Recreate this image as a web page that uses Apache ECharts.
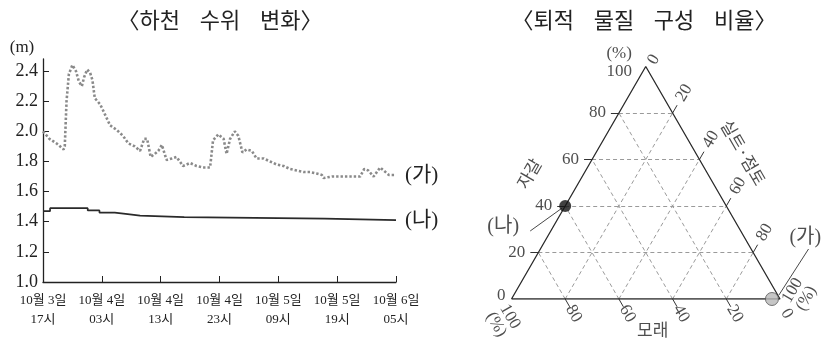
<!DOCTYPE html>
<html>
<head>
<meta charset="utf-8">
<script src="https://cdn.jsdelivr.net/npm/echarts@6/dist/echarts.min.js"></script>
<style>
html,body{margin:0;padding:0;background:#fff;}
#c{width:827px;height:349px;}
</style>
</head>
<body>
<div id="c"></div>
<script>
// ---------- Data: river water level ----------
const hourLabels = ['10월 3일\n17시','10월 4일\n03시','10월 4일\n13시','10월 4일\n23시','10월 5일\n09시','10월 5일\n19시','10월 6일\n05시'];
const yTickValues = [1.0, 1.2, 1.4, 1.6, 1.8, 2.0, 2.2, 2.4];
// hours elapsed since 10/3 17시
const gaHours = [0,1.1,2.3,3.5,3.7,4.0,4.4,5.0,5.6,6.1,6.6,7.0,7.5,8.0,8.4,8.8,9.7,10.2,11.4,12.5,13.6,14.5,15.6,16.5,17.2,17.7,18.3,19.0,19.6,20.2,21.0,21.9,22.7,23.8,25.0,26.1,27.2,28.4,28.9,29.8,30.7,31.2,31.8,32.6,33.2,33.9,34.6,35.5,36.3,37.5,38.6,39.7,40.9,42.0,43.1,44.3,45.4,46.5,47.4,47.7,48.0,49.1,51.5,53.9,54.6,55.3,56.2,57.3,57.9,58.8,60];
const gaLevel = [2.00,1.95,1.92,1.88,1.90,2.20,2.38,2.44,2.40,2.33,2.30,2.36,2.41,2.39,2.34,2.22,2.18,2.14,2.04,2.01,1.97,1.92,1.90,1.87,1.95,1.95,1.83,1.85,1.87,1.91,1.81,1.82,1.83,1.77,1.79,1.77,1.76,1.76,1.94,1.98,1.95,1.85,1.95,2.00,1.97,1.86,1.88,1.87,1.82,1.82,1.80,1.78,1.77,1.75,1.74,1.73,1.73,1.72,1.71,1.69,1.70,1.70,1.70,1.70,1.75,1.74,1.70,1.76,1.74,1.71,1.71];
const naHours = [0,1.2,7.6,9.6,12.2,14.4,16.5,24.0,47.9,60];
const naLevel = [1.47,1.49,1.475,1.46,1.45,1.44,1.43,1.42,1.41,1.41];
const seriesNames = ['(가)','(나)'];

// ---------- Data: sediment composition (ternary, %) ----------
const ternTicks = [0,20,40,60,80,100];
const sampleNames = ['(가)','(나)'];
const sampleGravel = [0, 40];
const sampleSand = [3, 60];
const sampleSilt = [97, 0];

// ---------- helpers ----------
const SQ = Math.sqrt(3) / 2;
function tern(g, c) { return [c + g / 2, g * SQ]; }
const PXU = 100 / 268.5;
function shiftPx(p, dx, dy) { return [p[0] + dx * PXU, p[1] - dy * PXU]; }
const numFont = '"Liberation Serif","DejaVu Serif","Noto Sans CJK KR",serif';
const krFont = '"Noto Sans CJK KR","Noto Sans",sans-serif';
const mixFont = '"Liberation Serif","Noto Sans CJK KR",serif';

const inner = ternTicks.filter(v => v > 0 && v < 100);

// dashed grid segments
const gridSegs = [];
inner.forEach(v => {
  gridSegs.push({coords: [tern(v, 0), tern(v, 100 - v)]});          // gravel const
  gridSegs.push({coords: [tern(0, v), tern(100 - v, v)]});          // silt const
  gridSegs.push({coords: [tern(0, 100 - v), tern(100 - v, 0)]});    // sand const
});
// ticks
const tickSegs = [];
inner.forEach(v => {
  const pg = tern(v, 0);          tickSegs.push({coords: [pg, shiftPx(pg, -8, 0)]});
  const pc = tern(100 - v, v);    tickSegs.push({coords: [pc, shiftPx(pc, 4.5, -7.8)]});
  const ps = tern(0, 100 - v);    tickSegs.push({coords: [ps, shiftPx(ps, 4.5, 7.8)]});
});
// tick labels
const tickLabels = [];
function addLbl(p, text, opt) { tickLabels.push({value: p, label: Object.assign({formatter: text}, opt || {})}); }
inner.forEach(v => {
  addLbl(shiftPx(tern(v, 0), -13, 0), String(v), {align: 'right'});
  addLbl(shiftPx(tern(100 - v, v), 11.5, -20), String(v), {rotate: 60});
  addLbl(shiftPx(tern(0, 100 - v), 8.5, 14.7), String(v), {rotate: -60});
});
addLbl(shiftPx(tern(0, 0), -6, -3), String(ternTicks[0]), {align: 'right'});
addLbl(shiftPx(tern(100, 0), -26.6, -4.2), '(%)\n' + ternTicks[5], {lineHeight: 18});
addLbl(shiftPx(tern(100, 0), 8, -7), String(ternTicks[0]), {rotate: 60});
addLbl(shiftPx(tern(0, 100), 19.5, -4.6), ternTicks[5] + '\n(%)', {rotate: 60, lineHeight: 16});
addLbl(shiftPx(tern(0, 0), -8.4, 21.6), ternTicks[5] + '\n(%)', {rotate: -60, lineHeight: 16});
addLbl(shiftPx(tern(0, 100), 6.7, 14.7), String(ternTicks[0]), {rotate: -60});
// axis names
addLbl(shiftPx(tern(54, 0), -55, 0), '자갈', {rotate: 60, fontFamily: krFont, fontSize: 17});
addLbl(shiftPx(tern(63, 37), 48, 0), '실트·점토', {rotate: -60, fontFamily: krFont, fontSize: 17});
addLbl(shiftPx(tern(0, 50), 7, 31), '모래', {fontFamily: krFont, fontSize: 17});

// sample points
const samplePts = sampleNames.map((n, i) => tern(sampleGravel[i], sampleSilt[i]));
const leaderSegs = [
  {coords: [shiftPx(samplePts[0], 7, -4), shiftPx(samplePts[0], 36.6, -50)]},
  {coords: [shiftPx(samplePts[1], -3, 2), shiftPx(samplePts[1], -35, 25)]}
];
const labelOffsets = [[33.3, -61], [-62, 21]];

const chart = echarts.init(document.getElementById('c'), null, {renderer: 'canvas'});
const axisColor = '#222';

const option = {
  backgroundColor: '#fff',
  animation: false,
  graphic: [
    {type: 'text', style: {text: '〈하천    수위    변화〉', font: '22px "Noto Sans CJK KR"', fill: '#222', align: 'center', verticalAlign: 'middle', x: 220, y: 20}},
    {type: 'text', style: {text: '〈퇴적    물질    구성    비율〉', font: '22px "Noto Sans CJK KR"', fill: '#222', align: 'center', verticalAlign: 'middle', x: 644, y: 20}},
    {type: 'text', style: {text: '(m)', font: '17px "Liberation Serif"', fill: '#222', align: 'center', verticalAlign: 'middle', x: 22, y: 48}}
  ],
  grid: [
    {left: 43, top: 59, width: 353, height: 223},
    {left: 511.5, top: 66.5, width: 268.5, height: 232.5}
  ],
  xAxis: [
    {gridIndex: 0, type: 'value', min: 0, max: 60, interval: 10,
     axisLine: {show: true, lineStyle: {color: axisColor, width: 1.3}},
     axisTick: {show: true, inside: true, length: 6, lineStyle: {color: axisColor}},
     splitLine: {show: false},
     axisLabel: {formatter: v => hourLabels[Math.round(v / 10)], color: '#222', fontFamily: mixFont, fontSize: 13, lineHeight: 19, margin: 9}},
    {gridIndex: 1, type: 'value', min: 0, max: 100, show: false}
  ],
  yAxis: [
    {gridIndex: 0, type: 'value', min: 1.0, max: 2.48, interval: 0.2,
     axisLine: {show: true, lineStyle: {color: axisColor, width: 1.3}},
     axisTick: {show: true, inside: true, length: 6, customValues: yTickValues, lineStyle: {color: axisColor}},
     splitLine: {show: false},
     axisLabel: {customValues: yTickValues, formatter: v => v.toFixed(1), color: '#222', fontFamily: numFont, fontSize: 18, margin: 5}},
    {gridIndex: 1, type: 'value', min: 0, max: 100 * SQ, show: false}
  ],
  series: [
    {type: 'line', name: seriesNames[0], xAxisIndex: 0, yAxisIndex: 0,
     data: gaHours.map((h, i) => [h, gaLevel[i]]), symbol: 'none',
     lineStyle: {color: '#8a8a8a', width: 2.6, type: [2.4, 2]},
     endLabel: {show: true, formatter: seriesNames[0], color: '#222', fontSize: 21, fontFamily: mixFont, distance: 9}},
    {type: 'line', name: seriesNames[1], xAxisIndex: 0, yAxisIndex: 0, step: 'end',
     data: naHours.map((h, i) => [h, naLevel[i]]), symbol: 'none',
     lineStyle: {color: '#2a2a2a', width: 1.7},
     endLabel: {show: true, formatter: seriesNames[1], color: '#222', fontSize: 21, fontFamily: mixFont, distance: 9}},
    {type: 'lines', coordinateSystem: 'cartesian2d', xAxisIndex: 1, yAxisIndex: 1, silent: true,
     data: gridSegs, lineStyle: {color: '#9a9a9a', width: 1, type: [4, 3], opacity: 1}, z: 1},
    {type: 'lines', coordinateSystem: 'cartesian2d', xAxisIndex: 1, yAxisIndex: 1, silent: true, clip: false,
     data: tickSegs, lineStyle: {color: '#333', width: 1, opacity: 1}, z: 2},
    {type: 'line', xAxisIndex: 1, yAxisIndex: 1, silent: true, symbol: 'none',
     data: [tern(0, 0), tern(0, 100), tern(100, 0), tern(0, 0)],
     lineStyle: {color: '#2a2a2a', width: 1.3}, z: 3},
    {type: 'lines', coordinateSystem: 'cartesian2d', xAxisIndex: 1, yAxisIndex: 1, silent: true, clip: false,
     data: leaderSegs, lineStyle: {color: '#333', width: 0.9, opacity: 1}, z: 3},
    {type: 'scatter', xAxisIndex: 1, yAxisIndex: 1, silent: true, clip: false, symbolSize: 0,
     data: tickLabels,
     label: {show: true, position: 'inside', align: 'center', verticalAlign: 'middle', color: '#222', fontFamily: numFont, fontSize: 17}, z: 4},
    {type: 'scatter', xAxisIndex: 1, yAxisIndex: 1, silent: true, clip: false,
     data: samplePts.map((p, i) => ({
       value: p, name: sampleNames[i],
       symbolSize: i === 0 ? 13 : 12,
       itemStyle: i === 0 ? {color: '#b8b8b8', borderColor: '#555', borderWidth: 1} : {color: '#111'},
       label: {offset: labelOffsets[i]}
     })),
     label: {show: true, position: 'inside', formatter: '{b}', color: '#222', fontFamily: mixFont, fontSize: 20, align: 'center', verticalAlign: 'middle'},
     z: 5}
  ]
};
chart.setOption(option);
</script>
</body>
</html>
